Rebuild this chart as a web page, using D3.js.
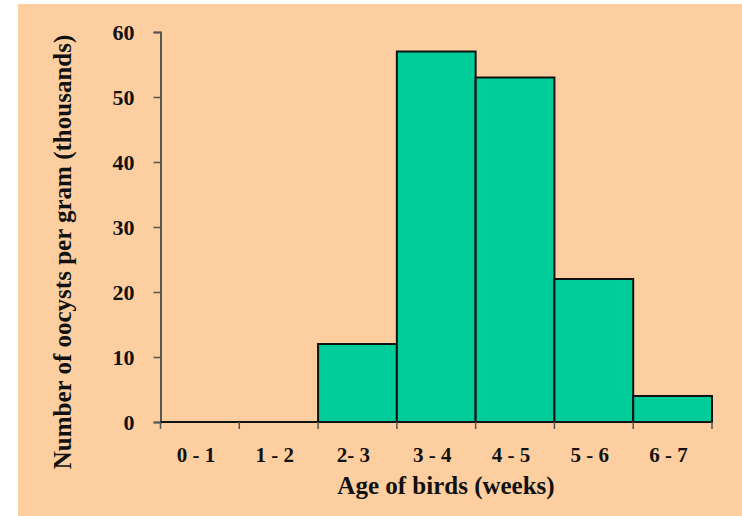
<!DOCTYPE html>
<html>
<head>
<meta charset="utf-8">
<script src="https://cdn.jsdelivr.net/npm/d3@7"></script>
<style>
  html, body { margin: 0; padding: 0; background: #ffffff; }
  svg { display: block; }
  text { font-family: "Liberation Serif", "Times New Roman", serif; font-weight: bold; fill: #111; }
</style>
</head>
<body>
<svg id="chart" width="742" height="516"></svg>
<script>
// Oocyst counts by age band of the birds
const ageBands = ["0 - 1", "1 - 2", "2- 3", "3 - 4", "4 - 5", "5 - 6", "6 - 7"];
const oocysts = [0, 0, 12, 57, 53, 22, 4];
const yTicks = [0, 10, 20, 30, 40, 50, 60];

const svg = d3.select("#chart");
const W = 742, H = 516;
const margin = { left: 160.5, right: 30, top: 32, bottom: 94 };

// peach panel
svg.append("rect")
  .attr("x", 18).attr("y", 4)
  .attr("width", W - 18).attr("height", H - 4)
  .attr("fill", "#fdce9f");

const x = d3.scaleBand()
  .domain(ageBands)
  .range([margin.left, 712])
  .paddingInner(0).paddingOuter(0);

const y = d3.scaleLinear()
  .domain([0, 60])
  .range([H - margin.bottom, margin.top]);

// bars
svg.append("g").selectAll("rect")
  .data(ageBands.map((b, i) => ({ band: b, v: oocysts[i] })).filter(d => d.v > 0))
  .join("rect")
  .attr("x", d => x(d.band))
  .attr("y", d => y(d.v))
  .attr("width", x.bandwidth())
  .attr("height", d => y(0) - y(d.v))
  .attr("fill", "#00cc99")
  .attr("stroke", "#111")
  .attr("stroke-width", 2);

// y axis
const yAxis = svg.append("g")
  .attr("transform", `translate(${margin.left},0)`)
  .call(d3.axisLeft(y).tickValues(yTicks).tickSize(7).tickPadding(19).tickFormat(d3.format("d")));
yAxis.attr("font-size", null).attr("font-family", null);
yAxis.select(".domain").attr("stroke", "#555").attr("stroke-width", 2);
yAxis.selectAll(".tick line").attr("stroke", "#555").attr("stroke-width", 1.5);
yAxis.selectAll(".tick text").style("font-size", "22px").attr("dy", "0.35em");

// x axis: ticks at band boundaries, labels centred in bands
const xAxisG = svg.append("g").attr("transform", `translate(0,${y(0)})`);
const edges = ageBands.map(b => x(b)).concat([x(ageBands[ageBands.length - 1]) + x.bandwidth()]);
xAxisG.append("line")
  .attr("x1", edges[0]).attr("x2", edges[edges.length - 1])
  .attr("y1", 0).attr("y2", 0)
  .attr("stroke", "#111").attr("stroke-width", 2);
xAxisG.selectAll("line.tk")
  .data(edges)
  .join("line")
  .attr("class", "tk")
  .attr("x1", d => d).attr("x2", d => d)
  .attr("y1", 0).attr("y2", 7)
  .attr("stroke", "#555").attr("stroke-width", 1.5);
xAxisG.selectAll("text")
  .data(ageBands)
  .join("text")
  .attr("x", d => x(d) + x.bandwidth() / 2 - 4)
  .attr("y", 40)
  .attr("text-anchor", "middle")
  .style("font-size", "21px")
  .text(d => d);

// axis titles
svg.append("text")
  .attr("x", 446)
  .attr("y", 494)
  .attr("text-anchor", "middle")
  .style("font-size", "25px")
  .text("Age of birds (weeks)");

svg.append("text")
  .attr("transform", `translate(71,252) rotate(-90)`)
  .attr("text-anchor", "middle")
  .style("font-size", "25px")
  .text("Number of oocysts per gram (thousands)");
</script>
</body>
</html>
